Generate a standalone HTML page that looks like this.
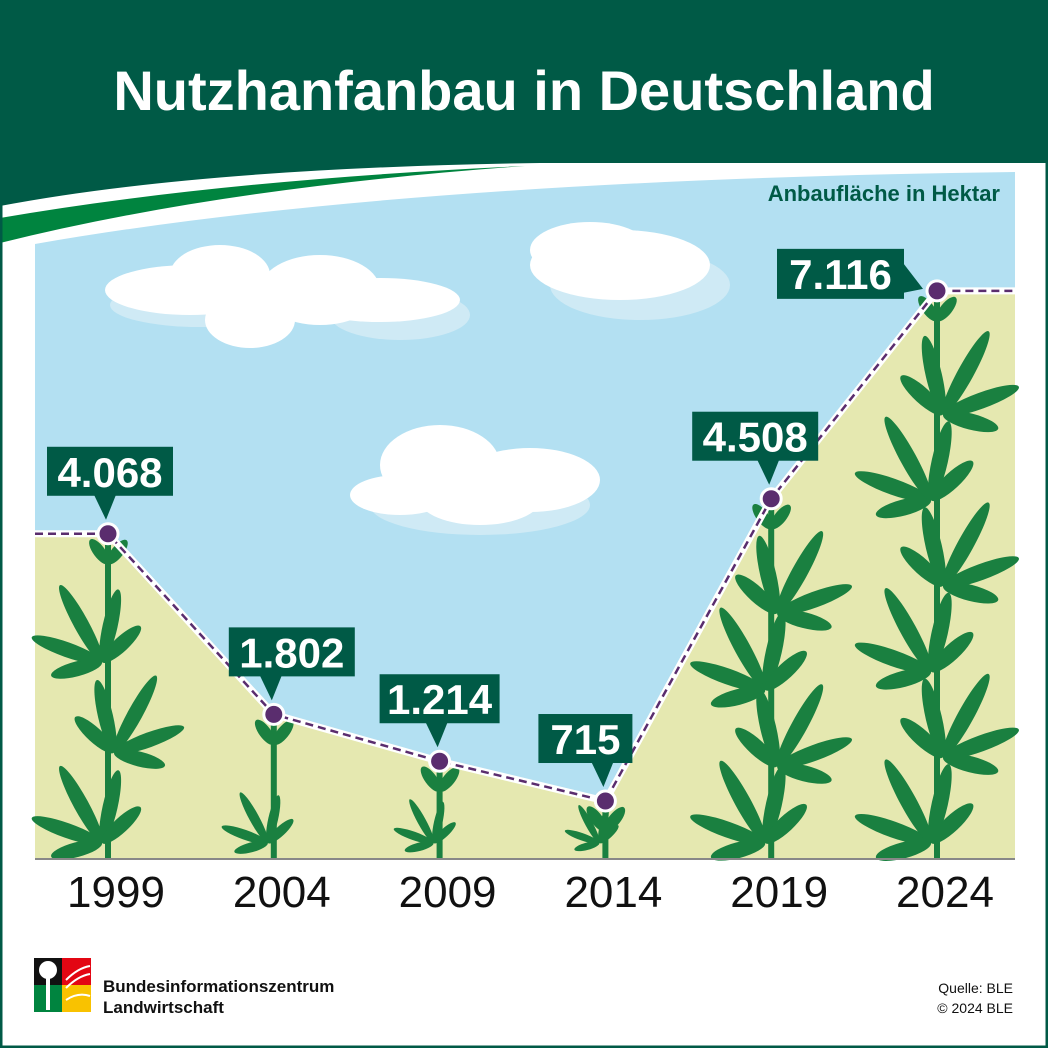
<!DOCTYPE html>
<html><head><meta charset="utf-8"><style>
html,body{margin:0;padding:0;background:#fff}
svg{display:block}
text{font-family:"Liberation Sans","DejaVu Sans",sans-serif}
</style></head><body>
<svg id="c" width="1048" height="1048" viewBox="0 0 1048 1048" xmlns="http://www.w3.org/2000/svg">
<rect x="0" y="0" width="1048" height="1048" fill="#fff"/>
<path d="M0,0H1048V163H540Q200,168 0,206Z" fill="#005a46"/>
<path d="M0,218Q220,180 525,166Q220,188 0,243Z" fill="#00843f"/>
<text x="524" y="110" text-anchor="middle" font-size="56" font-weight="bold" fill="#fff">Nutzhanfanbau in Deutschland</text>
<path d="M35,244Q400,180 1015,172V858H35Z" fill="#b3e0f2"/>
<text x="1000" y="201" text-anchor="end" font-size="22" font-weight="bold" fill="#005a46">Anbaufläche in Hektar</text>
<g id="clouds">
<g fill="#cfeaf5"><ellipse cx="200" cy="305" rx="90" ry="22"/><ellipse cx="400" cy="315" rx="70" ry="25"/><ellipse cx="640" cy="285" rx="90" ry="35"/><ellipse cx="480" cy="505" rx="110" ry="30"/></g>
<g fill="#fff"><ellipse cx="190" cy="290" rx="85" ry="25"/><ellipse cx="220" cy="275" rx="50" ry="30"/><ellipse cx="320" cy="290" rx="60" ry="35"/><ellipse cx="380" cy="300" rx="80" ry="22"/><ellipse cx="250" cy="320" rx="45" ry="28"/>
<ellipse cx="620" cy="265" rx="90" ry="35"/><ellipse cx="590" cy="250" rx="60" ry="28"/>
<ellipse cx="440" cy="465" rx="60" ry="40"/><ellipse cx="530" cy="480" rx="70" ry="32"/><ellipse cx="400" cy="495" rx="50" ry="20"/><ellipse cx="480" cy="500" rx="60" ry="25"/></g>
</g>
<g id="plot"></g>
<line x1="35" y1="859" x2="1015" y2="859" stroke="#888" stroke-width="2"/>
<g>
<rect x="34" y="958" width="28" height="27" fill="#111"/><rect x="62" y="958" width="29" height="27" fill="#e30613"/>
<rect x="34" y="985" width="28" height="27" fill="#00843f"/><rect x="62" y="985" width="29" height="27" fill="#f9c200"/>
<circle cx="48" cy="970" r="9" fill="#fff"/><rect x="46" y="975" width="4" height="35" fill="#fff"/>
<path d="M66,980Q78,968 90,966M66,988Q78,976 90,974M66,1000Q78,992 90,996" stroke="#fff" stroke-width="2" fill="none"/>
<text x="103" y="992" font-size="17" font-weight="bold" fill="#111">Bundesinformationszentrum</text>
<text x="103" y="1013" font-size="17" font-weight="bold" fill="#111">Landwirtschaft</text>
</g>
<text x="1013" y="993" text-anchor="end" font-size="14" fill="#111">Quelle: BLE</text>
<text x="1013" y="1013" text-anchor="end" font-size="14" fill="#111">© 2024 BLE</text>
<rect x="1" y="1" width="1046" height="1046" fill="none" stroke="#005a46" stroke-width="3"/>
</svg>
<script>
const years = ["1999","2004","2009","2014","2019","2024"];
const values = [4068,1802,1214,715,4508,7116];
const valueLabels = ["4.068","1.802","1.214","715","4.508","7.116"];
const NS="http://www.w3.org/2000/svg";
const g=document.getElementById('plot');
function xPos(i){return 108+i*165.8;}
function yPos(v){return 858-v*0.0797;}
function mk(t,a,p){const e=document.createElementNS(NS,t);for(const k in a)e.setAttribute(k,a[k]);(p||g).appendChild(e);return e;}
let d="M35,"+yPos(values[0]);
values.forEach((v,i)=>{d+=" L"+xPos(i)+","+yPos(v);});
d+=" L1015,"+yPos(values[values.length-1])+" L1015,858 L35,858Z";
const ground=mk('path',{d:d,fill:'#e5e8b0'});


function leaf(cx,cy,ang,len,w,p){const mx=cx+Math.cos(ang)*len/2,my=cy+Math.sin(ang)*len/2;mk('ellipse',{cx:mx,cy:my,rx:len/2,ry:w,fill:'#1a8040',transform:'rotate('+(ang*180/Math.PI)+' '+mx+' '+my+')'},p);}
function fan(cx,cy,s,tilt,p){[-2.9,-2.3,-1.57,-0.85,-0.25].forEach((a,k)=>{const l=s*(k==2?1:k==1||k==3?0.85:0.6);leaf(cx,cy,a+tilt,l,s*0.085,p);});}
values.forEach((v,i)=>{
  const x=xPos(i),top=yPos(v)+8;
  const pg=mk('g',{});
  
  
  mk('rect',{x:x-3,y:top,width:6,height:858-top,fill:'#1a8040'},pg);
  leaf(x,top+22,-2.2,30,6,pg);leaf(x,top+22,-0.9,30,6,pg);
  const h=858-top;
  const n=Math.max(1,Math.round(h/95));
  const s=Math.min(95,35+h/6);
  for(let k=0;k<n;k++){
    const yy=858-15-k*(h-45)/n;
    const side=k%2?1:-1;
    fan(x+side*6,yy,s,side*0.5,pg);
  }
});
const pts=values.map((v,i)=>xPos(i)+","+yPos(v));
const pl="35,"+yPos(values[0])+" "+pts.join(" ")+" 1015,"+yPos(values[values.length-1]);
const w=mk('polyline',{points:pl,fill:'none',stroke:'#fff','stroke-width':7});


const ln=mk('polyline',{points:pl,fill:'none',stroke:'#5a2d6e','stroke-width':2.5,'stroke-dasharray':'8,5'});


const boxW=[126,126,120,94,126,127];
values.forEach((v,i)=>{
  const x=xPos(i),y=yPos(v);
  const c=mk('circle',{cx:x,cy:y,r:10,fill:'#5a2d6e',stroke:'#fff','stroke-width':3});
  
  
  const lg=mk('g',{});
  
  
  const bw=boxW[i];
  if(i===5){
    const bx=x-160,by=y-42;
    mk('rect',{x:bx,y:by,width:bw,height:50,fill:'#005a46'},lg);
    mk('path',{d:'M'+(bx+bw-1)+','+(by+14)+' L'+(x-14)+','+(y-2)+' L'+(bx+bw-1)+','+(by+44)+'Z',fill:'#005a46'},lg);
    mk('text',{x:bx+bw/2,y:by+40,'text-anchor':'middle','font-size':42,'font-weight':'bold',fill:'#fff'},lg).textContent=valueLabels[i];
  } else {
    const bx=x-bw/2+(i===0?2:0)+(i===4?-16:0)+(i===1?18:0)+(i===3?-20:0), by=y-87;
    mk('rect',{x:bx,y:by,width:bw,height:49,fill:'#005a46'},lg);
    mk('path',{d:'M'+(x-14)+','+(by+48)+' L'+(x-2)+','+(y-14)+' L'+(x+8)+','+(by+48)+'Z',fill:'#005a46'},lg);
    mk('text',{x:bx+bw/2,y:by+40,'text-anchor':'middle','font-size':42,'font-weight':'bold',fill:'#fff'},lg).textContent=valueLabels[i];
  }
  const t=mk('text',{x:x+8,y:907,'text-anchor':'middle','font-size':44,fill:'#111'});
  t.textContent=years[i];
  
  
});
</script>
</body></html>
